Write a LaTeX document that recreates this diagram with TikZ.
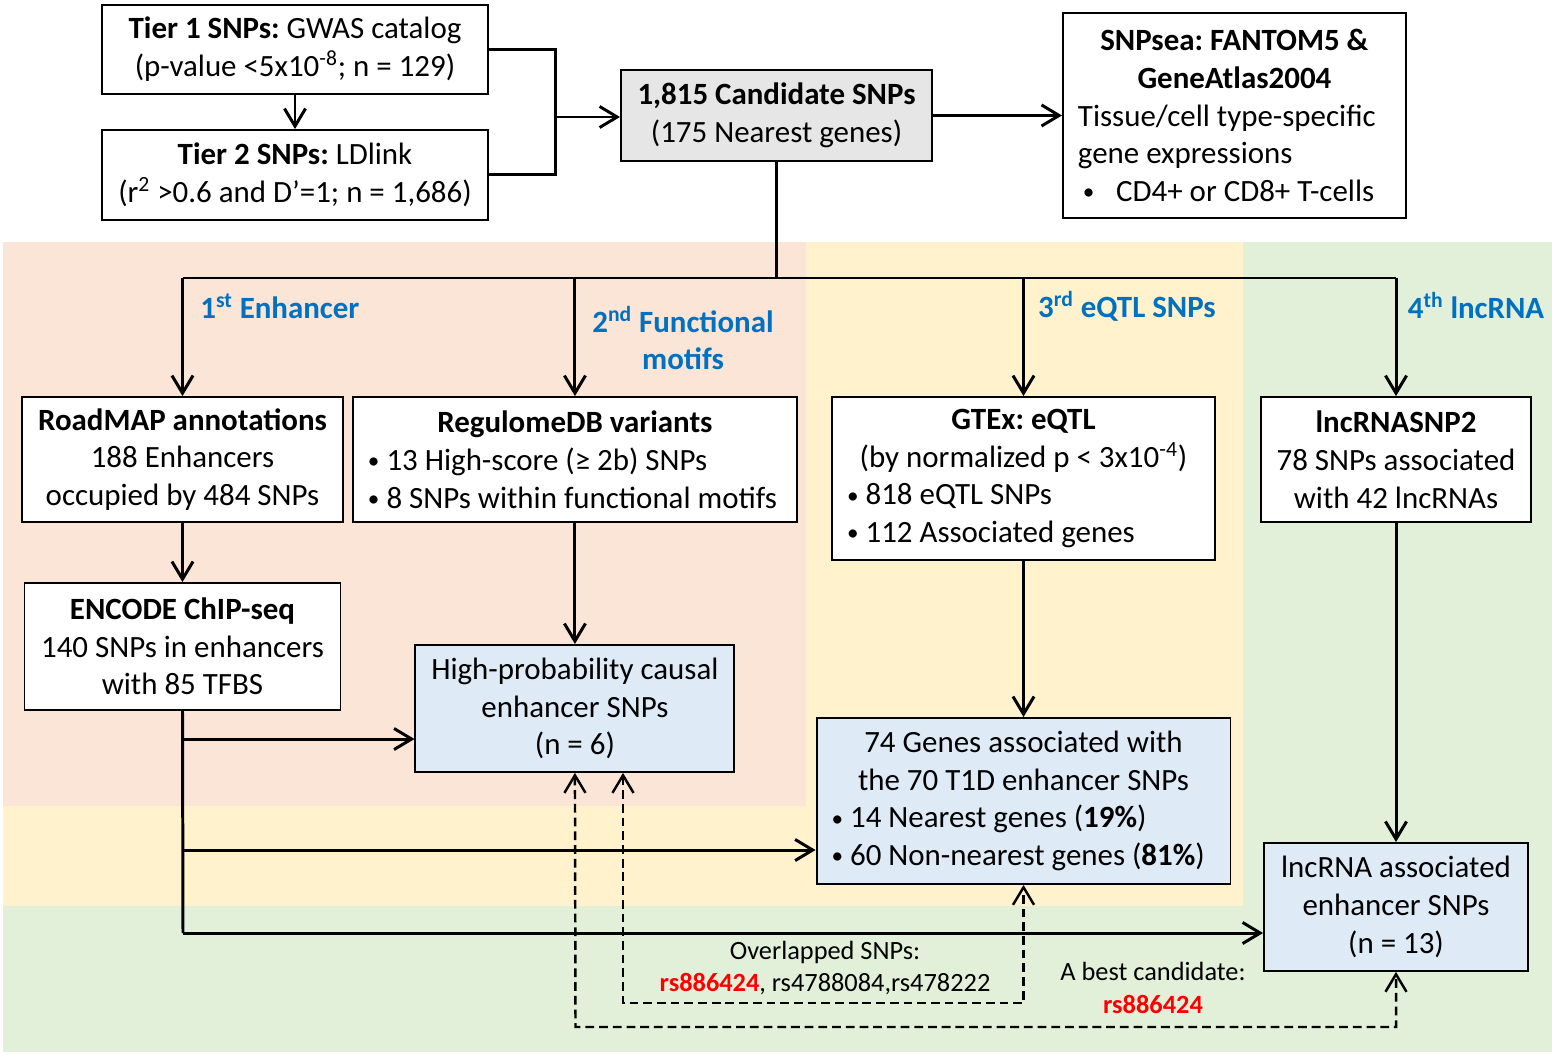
\documentclass[tikz,border=0pt]{standalone}
\usepackage{fontspec}
\setmainfont{Carlito}
\usetikzlibrary{arrows.meta}

\definecolor{bgpink}{HTML}{FBE5D6}
\definecolor{bgyellow}{HTML}{FFF2CC}
\definecolor{bggreen}{HTML}{E2F0D9}
\definecolor{candgray}{HTML}{E7E6E6}
\definecolor{resblue}{HTML}{DEEBF7}
\definecolor{stepblue}{HTML}{0070C0}
\definecolor{snpred}{HTML}{FF0000}

\newcommand{\headline}[1]{\makebox[\linewidth]{#1}}
\newcommand{\bul}{\raisebox{0.12ex}{\scalebox{0.75}{•}}}
\frenchspacing

\begin{document}
\begin{tikzpicture}[
  x=0.02cm, y=-0.02cm,
  box/.style={rectangle, draw, fill=white, line width=1.1pt, inner sep=0pt, align=center},
  lbox/.style={rectangle, draw, fill=white, line width=1.1pt, inner ysep=0pt, inner xsep=0.3cm,
    align=left, execute at begin node={\spaceskip=0pt\xspaceskip=0pt}},
  lbl/.style={font=\fontsize{17.6pt}{21.5pt}\selectfont\bfseries, text=stepblue, inner sep=0pt, align=center},
  note/.style={font=\fontsize{15pt}{18.7pt}\selectfont, inner sep=0pt, align=center},
  link/.style={line width=1.7pt},
  dlink/.style={line width=1.4pt, dash pattern=on 5pt off 2.8pt},
  >={Straight Barb[length=10pt,width=12pt]},
  font=\fontsize{17.6pt}{21.5pt}\selectfont
]
\useasboundingbox (0,0) rectangle (1564,1057);

% Coloured panels
\fill[bggreen] (3,242) rectangle (1552,1052);
\fill[bgyellow] (3,242) rectangle (1243,906);
\fill[bgpink] (3,242) rectangle (806,806);

% Input SNPs
\node[box, minimum width=7.72cm, minimum height=1.78cm] (tier1) at (295,49.5)
  {\textbf{Tier 1 SNPs:} GWAS catalog\\(p-value <5x10\textsuperscript{-8}; n = 129)};
\node[box, minimum width=7.72cm, minimum height=1.8cm, below of=tier1, node distance=2.51cm] (tier2)
  {\textbf{Tier 2 SNPs:} LDlink\\(r\textsuperscript{2} >0.6 and D’=1; n = 1,686)};

% Candidate set
\node[box, fill=candgray, minimum width=6.22cm, minimum height=1.82cm] (cand) at (776.5,115.5)
  {\textbf{1,815 Candidate SNPs}\\(175 Nearest genes)};
\node[lbox, text width=6.26cm, minimum height=4.1cm, right of=cand, node distance=9.16cm] (snpsea)
  {\headline{\textbf{SNPsea: FANTOM5 \&}}\\\headline{\textbf{GeneAtlas2004}}\\
   Tissue/cell type-specific\\gene expressions\\\hspace*{0.1cm}\bul\hspace{0.7em}CD4+ or CD8+ T-cells};

% Annotation steps
\node[box, minimum width=6.42cm, minimum height=2.5cm] (roadmap) at (182.5,459.5)
  {\textbf{RoadMAP annotations}\\188 Enhancers\\occupied by 484 SNPs};
\node[lbox, text width=8.28cm, minimum height=2.5cm, right of=roadmap, node distance=7.85cm] (regdb)
  {\headline{\textbf{RegulomeDB variants}}\\\bul{} 13 High-score (≥ 2b) SNPs\\\bul{} 8 SNPs within functional motifs};
\node[lbox, text width=7.06cm, minimum height=3.26cm] (gtex) at (1023.5,478.5)
  {\headline{\textbf{GTEx: eQTL}}\\\headline{(by normalized p < 3x10\textsuperscript{-4})}\\
   \bul{} 818 eQTL SNPs\\\bul{} 112 Associated genes};
\node[box, minimum width=5.4cm, minimum height=2.5cm] (lncsnp) at (1396,459.5)
  {\textbf{lncRNASNP2}\\78 SNPs associated\\with 42 lncRNAs};

% Second level
\node[box, minimum width=6.32cm, minimum height=2.54cm, below of=roadmap, node distance=3.74cm] (encode)
  {\textbf{ENCODE ChIP-seq}\\140 SNPs in enhancers\\with 85 TFBS};
\node[box, fill=resblue, minimum width=6.38cm, minimum height=2.54cm, below of=regdb, node distance=4.98cm] (hp)
  {High-probability causal\\enhancer SNPs\\(n = 6)};
\node[lbox, fill=resblue, text width=7.68cm, minimum height=3.32cm, below of=gtex, node distance=6.45cm] (genes)
  {\headline{74 Genes associated with}\\\headline{the 70 T1D enhancer SNPs}\\
   \bul{} 14 Nearest genes (\textbf{19\%})\\\bul{} 60 Non-nearest genes (\textbf{81\%})};
\node[box, fill=resblue, minimum width=5.28cm, minimum height=2.56cm, below of=lncsnp, node distance=8.95cm] (lncenh)
  {lncRNA associated\\enhancer SNPs\\(n = 13)};

% Step labels
\node[lbl, anchor=west] (lab1) at (200,306) {1\textsuperscript{st} Enhancer};
\node[lbl] (lab2) at (683,338) {2\textsuperscript{nd} Functional\\motifs};
\node[lbl] (lab3) at (1127,306) {3\textsuperscript{rd} eQTL SNPs};
\node[lbl] (lab4) at (1476,306) {4\textsuperscript{th} lncRNA};

% Notes on the overlaps
\node[note] (ovl) at (825,968)
  {Overlapped SNPs:\\\textcolor{snpred}{\textbf{rs886424}}, rs4788084,rs478222};
\node[note] (best) at (1153,988)
  {A best candidate:\\\textcolor{snpred}{\textbf{rs886424}}};

% Merge of tier 1 and tier 2
\coordinate (jn) at (555,117);
\draw[->,link] (tier1) -- (tier2);
\draw[link] (tier1.east) -| (jn) |- (tier2.east);
\draw[->,link] (jn) -- (cand.west |- jn);
\draw[->,link] (cand) -- (snpsea);

% Split into the four steps
\coordinate (split) at (776.5,278);
\draw[link] (cand.south) -- (split);
\draw[link] (roadmap.north |- split) -- (lncsnp.north |- split);
\foreach \n in {roadmap,regdb,gtex,lncsnp}
  \draw[->,link] (\n.north |- split) -- (\n.north);

% Down the steps
\draw[->,link] (roadmap) -- (encode);
\draw[->,link] (regdb) -- (hp);
\draw[->,link] (gtex) -- (genes);
\draw[->,link] (lncsnp) -- (lncenh);

% Enhancer SNPs passed on
\coordinate (e1) at (183,739);
\coordinate (e2) at (183,850);
\coordinate (e3) at (183,933);
\draw[link] (encode.south) -- (e3);
\draw[->,link] (e1) -- (e1 -| hp.west);
\draw[->,link] (e2) -- (e2 -| genes.west);
\draw[->,link] (e3) -- (e3 -| lncenh.west);

% Overlaps (dashed)
\coordinate (d1) at (623,1003);
\coordinate (d2) at (575.5,1027);
\draw[<->,dlink] (hp.south -| d1) -- (d1) -| (genes.south);
\draw[<->,dlink] (hp.south) -- (d2) -| (lncenh.south);

\end{tikzpicture}
\end{document}
